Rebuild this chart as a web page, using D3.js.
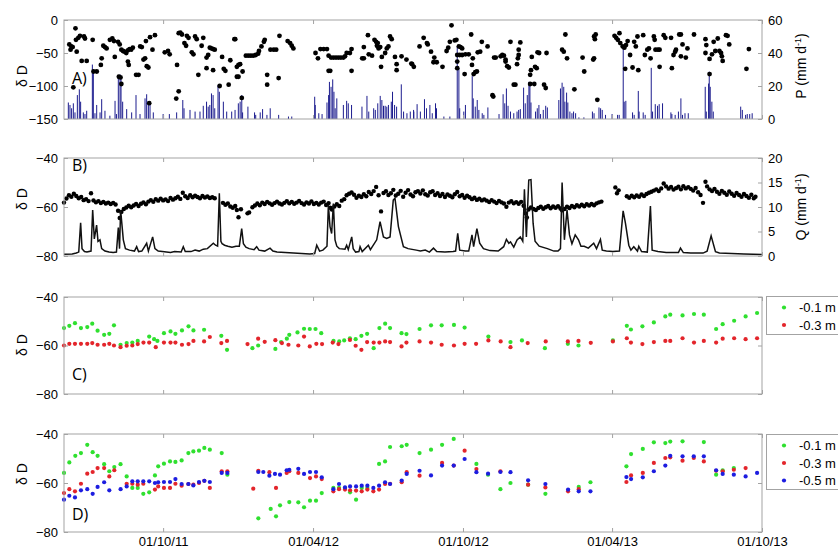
<!DOCTYPE html>
<html>
<head>
<meta charset="utf-8">
<script src="https://cdn.jsdelivr.net/npm/d3@7"></script>
<style>
body { margin: 0; background: #fff; }
svg text { font-family: "Liberation Sans", Arial, sans-serif; }
</style>
</head>
<body>
<div id="chart"></div>
<script>
// time axis
const startDate = new Date(2011, 5, 2);
const endDate = new Date(2013, 9, 1);
const dateTicks = [new Date(2011, 9, 1), new Date(2012, 3, 1), new Date(2012, 9, 1), new Date(2013, 3, 1), new Date(2013, 9, 1)];

// all series are [days since startDate, value]
// A) precipitation deltaD
const rainDeltaD = [[6.5,-37],[9,-40],[10.6,-41],[8,-45],[14,-12.6],[14.6,-30],[17.5,-27],[19.5,-24],[24.4,-25],[25.6,-28],[15.5,-48],[11.4,-102],[21.6,-62],[27.7,-62],[35,-30],[36,-78],[40,-78],[45,-68],[46,-58],[48,-39],[50,-41],[52,-43],[56,-30],[59,-28],[61,-32],[62,-56],[66,-33],[68,-37],[67,-86],[69,-87],[70,-45],[72,-47],[74,-48],[76,-50],[78,-46],[80,-44],[82,-45],[84,-42],[70,-97],[78,-63],[79,-68],[88,-83],[91,-83],[93,-40],[95,-41],[97,-60],[99,-58],[101,-70],[103,-72],[100,-32],[105,-26],[104,-126],[108,-45],[111,-23],[123,-49],[127,-47],[129,-52],[138,-68],[140,-20],[142,-19],[144,-22],[137,-119],[140,-108],[147,-35],[149,-39],[150,-24],[152,-27],[156,-49],[158,-52],[160,-25],[162,-29],[164,-83],[168,-39],[170,-27],[174,-57],[176,-53],[178,-42],[180,-43],[182,-44],[184,-45],[174,-73],[182,-76],[190,-100],[193,-56],[195,-74],[197,-77],[201,-98],[203,-61],[208,-29],[211,-71],[213,-86],
  [209,-29],[213,-68],[215,-67],[218,-78],[211,-86],[217,-118],[222,-54],[225,-54],[228,-54],[231,-54],[234,-53],[237,-51],[238,-47],[241,-40],[244,-33],[245,-30],[248,-83],[248,-98],[252,-45],[256,-45],[259,-45],[262,-88],[263,-24],[273,-32],[276,-35],[278,-39],[280,-43],
  [307,-50],[310,-58],[313,-44],[317,-44],[321,-44],[323,-54],[326,-57],[329,-57],[332,-57],[335,-57],[338,-57],[341,-57],[343,-55],[323,-77],[325,-77],[345,-50],[349,-50],[351,-44],[351,-77],[364,-58],[366,-58],[366,-41],[371,-23],[372,-52],[376,-54],[379,-30],[381,-33],[383,-35],[382,-39],[384,-43],[386,-41],[388,-56],[387,-71],[392,-50],[394,-43],[396,-40],[398,-25],[400,-29],[404,-56],[406,-76],[406,-67],[412,-55],[418,-60],[424,-66],[427,-71],
  [425,-67],[434,-40],[439,-27],[443,-35],[444,-37],[448,-48],[452,-57],[451,-64],[455,-64],[462,-71],[467,-47],[469,-42],[471,-33],[473,-8],[477,-31],[479,-30],[480,-53],[480,-63],[480,-73],[482,-40],[484,-41],[486,-43],[483,-53],[486,-53],[490,-52],[494,-52],[489,-82],[497,-22],[498,-68],[499,-58],[500,-82],[502,-79],[504,-78],[505,-49],[508,-48],[510,-33],[517,-40],[523,-114],[524,-116],[525,-57],[527,-57],[533,-55],[535,-53],[537,-54],[539,-60],[541,-70],[543,-72],[539,-63],[545,-33],[549,-98],[551,-98],[553,-67],[554,-58],[555,-53],[555,-45],[557,-34],[569,-83],[569,-97],[570,-76],[571,-56],[575,-71],[577,-73],[574,-97],[578,-49],[580,-50],[589,-50],[586,-98],[588,-103],[608,-45],[610,-48],[614,-58],[612,-22],[623,-105],[633,-57],[635,-78],
  [647,-25],[648,-29],[649,-22],[646,-60],[647,-58],[651,-121],[672,-24],[674,-27],[676,-30],[678,-20],[679,-35],[682,-40],[684,-42],[686,-38],[688,-32],[685,-74],[691,-53],[694,-72],[696,-33],[698,-40],[700,-25],[701,-76],[707,-23],[709,-53],[712,-45],[714,-43],[716,-58],[720,-25],[721,-30],[722,-45],[725,-45],[727,-45],[727,-71],[732,-23],[734,-27],[741,-27],[742,-73],[744,-53],[746,-48],[747,-45],[751,-22],[753,-22],[753,-55],[755,-37],[759,-57],[761,-43],[769,-22],[783,-29],[783,-50],[784,-38],[788,-59],[791,-52],[793,-33],[795,-47],[798,-28],[800,-47],[802,-50],[803,-55],[804,-62],[808,-23],[810,-24],[812,-37],[788,-82],[833,-74],[836,-44]];

// A) precipitation depth (mm/d)
const rainDepth = [[5.3,10],[7.3,8.5],[9.3,6.5],[11.4,9.5],[13.4,4],[16.3,14.5],[18.7,18],[20.3,10.5],[23.6,4],[25.6,3],[27.7,5],[34.6,33],[35.8,29],[37.8,3.5],[39.9,8.5],[44,4],[46,12],[50,5],[56,2],[62.3,11],[64,3],[66.3,26],[68.4,27],[69.6,25],[71.6,10.5],[76.5,6],[82.6,4],[87.9,14.5],[92.8,3],[98.9,12.5],[100.9,15],[103,8.5],[105,10],[109,4],[121,3],[128.6,3],[137.5,4],[145,11.5],[146.5,6.5],[153.8,5.5],[160,4.5],[166,4.5],[170,8],[174,10.5],[176,7.5],[178,8.5],[180,15.5],[182,14.5],[184,6.5],[188,20.5],[189.6,16.5],[194.5,10.5],[198.6,4.5],[204.7,4.5],[208.8,5.5],[212.8,9.5],
  [215,10.5],[217,14.5],[218,4],[224.5,7.5],[232.6,4],[234,2.5],[239.5,4],[242.4,6],[247.7,2.5],[251.7,6.5],[262,2.5],[274,1.5],[278,1.5],
  [306,13.5],[306.7,8.5],[311,3.5],[315,3],[321,10],[323,14.5],[324,22.5],[326,19.5],[328,24],[329.5,16.5],[331,6.5],[333,12.5],[341,8.5],[345,11],[347,9.5],[351,8.5],[363.7,7.5],[369.8,14],[372,4.5],[378,6.5],[380,5.5],[383,9.5],[386,14],[388,11.5],[390,8],[392,8],[394,7.5],[396,8.5],[399.5,10.5],[401,16.5],[403.5,8.5],[406,7.5],[411.7,21],[414.5,4.5],[418.6,3.5],[422.7,4.5],[426.7,5.5],
  [427,4.5],[431,9],[435,4.5],[440,12],[442.5,6.5],[446.6,8.5],[449.5,3.5],[453.5,9.5],[454.7,6.5],[463.7,1.5],[471,1.5],[480,44],[482,30.5],[483,6.5],[488,4.5],[490,8.5],[498.3,26],[499.5,12.5],[502,7.5],[504.4,11.5],[506.4,5.5],[510.5,3.5],[512.5,2.5],[517.4,7],[531,3],[536,15],[538,9.5],[540,18.5],[542,8],[545,4.5],[549,3.5],[553,4.5],[555,5.5],[557,6],[561,19],[563,9.5],[565.5,14.5],[567.5,22.5],[568.7,21],[570,10],[575.6,4.5],[577.7,6.5],[579.7,8.5],[581.7,3],[585,5.5],[588,8],[590,7],[604,11.5],[606,18.5],[608,22],[610,19.5],[611.4,10.5],[613.5,16],[615,10],[617.5,4.5],[620,3.5],[622,4.5],[624.5,3.5],[628.5,1],[634.6,1],
  [645,4.5],[647,3.5],[653,7],[655,6.5],[657,5.5],[661,2.5],[669,3],[675.7,2.5],[677.7,2.5],[682.6,44],[683.8,10.5],[685.8,11],[694,4],[696,2.5],[701,17],[702,4.5],[707,4],[709.4,2.5],[716.8,31],[718.4,4.5],[721.7,9],[724.5,8],[726.5,9],[730.6,9.5],[740.8,4],[742,3],[746,2.5],[750,4.5],[753,12.5],[755,2.5],[758,3.5],[762,3.5],[782.7,19.5],[784,4.5],[786.8,21.5],[787.6,28.7],[788.8,19.5],[790.8,10.5],[792.5,4.5],[826,7.5],[828,5.5],[832,2.5],[834,3],[837,3],[840,3.5]];

// B) stream water deltaD
const streamDeltaD = [[0,-58.2],[3,-56.5],[6,-55.2],[9,-55.8],[12,-54.6],[15,-55.5],[18,-56.4],[21,-55.9],[24,-57.2],[27,-56.8],[30,-57.6],[33,-54.4],[36,-57.3],[39,-58.1],[42,-57.6],[45,-58.4],[48,-57.9],[51,-58.6],[54,-58.2],[57,-58.8],[60,-58.3],[63,-59],[66,-61.5],[68,-64.5],[70,-62],[73,-60.8],[76,-60.2],[79,-59.5],[82,-60.1],[85,-59.4],[88,-58.8],[91,-59.6],[94,-58.7],[97,-58.1],[100,-58.9],[103,-57.8],[106,-57.2],[109,-57.9],[112,-56.8],[115,-57.4],[118,-56.6],[121,-57.3],[124,-56.9],[127,-57.6],[130,-56.3],[133,-57],[136,-56.4],[139,-55.8],[142,-56.7],[145,-54.2],[148,-55.6],[151,-56.3],[154,-55.2],[157,-56],[160,-55.4],[163,-55.9],[166,-56.4],[169,-55.5],[172,-56.1],[175,-55.7],[178,-56.3],[181,-56],[184,-56.4],
  [194,-58.3],[197,-59.1],[200,-58.6],[203,-59.8],[206,-60.3],[209,-59.6],[211,-61.2],[213,-64.2],[216,-60.9],[224,-62.6],[226,-62.2],[230,-60.1],[233,-59.4],[236,-58.6],[239,-59.3],[242,-58.2],[245,-58.8],[248,-57.9],[251,-58.5],[254,-59.1],[257,-58.4],[260,-57.8],[263,-58.6],[266,-59],[269,-58.3],[272,-57.6],[275,-58.5],[278,-57.9],[281,-58.7],[284,-58.2],[287,-57.5],[290,-58.4],[293,-59],[296,-58.1],[299,-58.6],[302,-57.7],[305,-58.8],[308,-58.3],[311,-59],[314,-58.2],[317,-57.8],[320,-59.2],[323,-58.4],[325,-60.3],[327,-61],[330,-59.8],[333,-58.9],[336,-59.6],[339,-57.4],[342,-56.8],[345,-55.2],[348,-54.6],[351,-54.1],[354,-55],[357,-56.2],[360,-55.4],[363,-55.9],[366,-54.8],[369,-55.6],[372,-53.9],[375,-54.7],[378,-53.5],[381,-51.8],[384,-55.2],[387,-61.8],[390,-54.3],[393,-53.6],[396,-55.1],[399,-54.4],[402,-53],[405,-55.3],[408,-54.6],[411,-53.4],[414,-55.8],[417,-54.2],[420,-53.1],[423,-54.9],[426,-55.6],[429,-54],[432,-53.5],[435,-54.5],[438,-53.2],[441,-54.8],[444,-55.3],[447,-54],[450,-53.6],[453,-55.1],[456,-54.4],[459,-55.5],[462,-54.7],[465,-55.9],[468,-54.9],[471,-55.4],[474,-56],[477,-54.8],[480,-53.9],[483,-55.6],[486,-55.1],[489,-56.2],[492,-55.4],[495,-56],[498,-56.8],[501,-56.2],[504,-57.1],[507,-56.6],[510,-57.3],[513,-56.9],[516,-57.4],[519,-58],[522,-57.2],[525,-57.8],[528,-58.4],[531,-57.5],[534,-58.1],[537,-58.6],[540,-59.9],[543,-58.2],[546,-57.6],[549,-58.5],[552,-58],[555,-58.7],[558,-57.9],[561,-59.5],[563,-62.5],[565,-64.3],[567,-61],[570,-60.2],[573,-60.8],[576,-61.2],[579,-60.4],[582,-59.9],[585,-60.7],[588,-60.1],[591,-59.6],[594,-60.5],[597,-59.8],[600,-60.3],[603,-59.7],[606,-60.6],[608,-61.3],[611,-60.8],[614,-59.9],[617,-60.4],[620,-59.6],[623,-60.1],[626,-59.3],[629,-59.8],[632,-59.1],[635,-59.7],[638,-58.9],[641,-59.4],[644,-58.8],[647,-59.3],[650,-58.5],[653,-58.1],[656,-57.8],
  [673,-52],[675,-54.4],[677,-53.2],[687,-55.6],[690,-56.2],[693,-55.4],[696,-56],[699,-55.3],[702,-55.8],[705,-54.9],[708,-55.5],[711,-54.7],[714,-54.2],[717,-53.8],[720,-53.3],[723,-52.8],[726,-53.5],[729,-52.4],[732,-50.4],[735,-51.6],[738,-52.5],[741,-51.8],[744,-52.9],[747,-52.3],[750,-51.7],[753,-52.8],[756,-51.5],[759,-52.4],[762,-51.9],[765,-52.6],[768,-53.3],[771,-52.2],[774,-54],[777,-55.1],[780,-58.3],[783,-49.7],[785,-51.6],[788,-52.8],[791,-53.5],[794,-52.6],[797,-53.8],[800,-54.6],[803,-53.4],[806,-54.2],[809,-55],[812,-53.7],[815,-54.6],[818,-55.4],[821,-54.3],[824,-55.1],[827,-55.8],[830,-54.7],[833,-55.5],[836,-56.2],[839,-55],[842,-56.4],[844,-55.8]];

// B) discharge Q (mm/d)
const discharge = [[0,0.35],[10,0.4],[15,0.6],[18,0.8],[20.3,6.8],[22,1.5],[25,0.9],[28,0.8],[33,1],[35,9.4],[37,3.5],[39.8,6.3],[41.5,3],[43.9,3.3],[46,1.5],[50,1],[55,0.8],[60,0.7],[64,0.8],[66.3,5.8],[67.8,1.5],[69.1,9.4],[72.4,3.3],[75,1.5],[80,1.2],[86,1],[88.7,1.9],[91,0.9],[95,1],[100.9,2.6],[103,1],[108.2,3.9],[111,1.5],[115,1],[120,0.9],[125,0.8],[130,0.7],[135,0.9],[143,0.8],[145.6,1.9],[148,0.9],[155,0.9],[160,1.2],[165,1],[170,1.4],[175,1.5],[182.3,2.6],[185,2.2],[187.5,2],[189.6,12.8],[191.5,3],[193,2.5],[196,2.2],[200,2],[205,1.8],[210,2],[214,2],[216.9,5.6],[219,2.5],[222,1.8],[226,1.5],[232,1.3],[235.2,1.9],[238,1.2],[245,1],[251.5,1.6],[255,1],[260,0.8],[270,0.7],[280,0.6],[290,0.5],[300,0.4],[306,0.5],[308.5,2.2],[312,1],[316,1.2],[321,2],[322.7,10.4],[324.7,6],[326.7,4.6],[328.8,10.7],[330.8,3.3],[333,2],[336,1.5],[343,1.4],[345,2.2],[347,1.3],[351.2,3.9],[353,1.5],[356,0.8],[360,0.9],[361.4,1.9],[364,0.9],[371.5,2.2],[374,1.3],[381.7,3.3],[385.8,7],[389.9,3.9],[393.9,3.6],[398,3.9],[401.9,11.4],[404,11.8],[408.2,6],[414.3,1.9],[420,1.5],[430,1.2],
  [435,1],[441,1.2],[446,0.8],[451,1.6],[455,0.9],[465,0.8],[475,0.9],[478,1],[480.6,4.6],[483,1.2],[490,1],[494,1],[498,4.3],[500,1.9],[504,5.6],[507.4,2.6],[512,1.5],[520,1.1],[530,1],[536.7,1.9],[540,3.4],[543,2.6],[545,2.9],[549,1.8],[553,3.3],[557,3.9],[560,3],[562,13.6],[564.4,3.9],[567.3,15.5],[570,15.6],[572.6,6.7],[575,3],[580,2],[590,1.5],[598,1],[603,1],[606,1.5],[608,15],[610.8,3.3],[614,9.4],[617,4.3],[620,2.5],[624,4.3],[628,3.3],[631,2],[635,2],[640,1.6],[646.6,2.6],[650,1.5],[654.8,3.4],[657,1.2],[662,1],[670,0.9],[678,1],[682.5,9.2],[685.3,6.7],[689.4,2.2],[692,1.2],[695.5,1.9],[700,1],[701.6,2],[705,0.9],[712,0.8],[715.8,10.2],[717.9,1.2],[725,0.9],[735,0.7],[750,0.7],[752.5,1.6],[756,0.7],[765,0.6],[780,0.6],[785,1],[789.9,4.1],[795.2,0.9],[800,0.6],[815,0.5],[830,0.4],[852,0.3]];

// C) soil water at two depths
const soilC01 = [[0,-52.8],[6.5,-51.9],[13.4,-50.8],[20.7,-52.8],[28.4,-52.4],[34.5,-51],[41,-53.9],[49,-55.6],[55.3,-55.2],[61,-51.7],[69,-59.7],[76.5,-59],[83.4,-58.8],[90,-58.1],[104,-56.3],[110,-57.4],[114,-58.1],[122,-54.9],[130,-54.2],[136,-55.2],[144,-53.8],[152,-52.1],[158,-53.8],[171,-53.5],[192,-56],[199,-61.8],[230,-61.1],[237,-60],[258,-61.4],[265,-58.6],[272,-57.2],[275,-55.6],[285,-54.6],[293,-53.1],[300,-53.2],[307,-53.2],[314,-54.9],[329,-58.1],[336,-58.3],[342,-57.9],[349,-57],[356,-57.4],[363,-56],[370,-55.2],[378,-61.1],[385,-52.8],[392,-51],[398,-52.8],[412,-54.9],[418,-55.3],[434,-53.2],[448,-51.7],[461,-51.7],[476,-51.5],[489,-52.6],[518,-56.3],[545,-58.6],[559,-57.9],[587,-61.1],[615,-59.3],[628,-60],[670,-57.9],[687,-51.9],[692,-53.4],[706,-52.1],[720,-50.5],[734,-48],[740,-47.3],[755,-47.6],[769,-47],[781,-47.3],[796,-53.2],[804,-51.2],[818,-49.8],[832,-48],[846,-46.6]];
const soilC03 = [[0,-60],[6.5,-59.3],[13.4,-59.3],[20.7,-59.3],[28.4,-59.3],[34.5,-59],[41,-59.7],[49,-59.7],[55.3,-59.3],[61,-60],[69,-60.7],[76.5,-60.1],[83.4,-60],[90,-59.4],[97,-58.8],[104,-58.8],[112,-60.7],[122,-58.8],[130,-58.8],[136,-58.8],[144,-59.7],[152,-59.4],[158,-58.1],[171,-58.3],[178,-56.5],[192,-59],[199,-58.1],[224,-59.4],[237,-57.2],[245,-58.5],[258,-57.8],[266,-59],[274,-59.7],[286,-60],[293,-56.3],[300,-60.4],[308,-59.3],[315,-59.4],[328,-58.8],[335,-59.4],[349,-57.7],[356,-60.1],[363,-61.8],[370,-58.6],[378,-58.8],[385,-58.8],[392,-58.3],[398,-58.6],[412,-60.4],[418,-58.8],[434,-58.3],[448,-58.8],[461,-59.7],[476,-60],[489,-59.3],[503,-59.3],[518,-57.9],[533,-58.3],[545,-60.7],[566,-59],[588,-58.3],[615,-58.3],[628,-58.1],[643,-58.9],[670,-58.3],[687,-57],[692,-58.8],[706,-59.4],[720,-58.6],[734,-58.1],[740,-58.1],[755,-57],[769,-58.8],[781,-58.1],[796,-58.8],[804,-57.2],[818,-57],[832,-57.4],[846,-57]];

// D) soil water at three depths
const soilD01 = [[0,-55.9],[6.5,-51.6],[13.8,-48.9],[20.7,-47.8],[28.4,-44.4],[35,-47.4],[41,-48.9],[49,-52.3],[55.3,-55.2],[61.4,-53.5],[69,-52.3],[76.5,-57.3],[83.4,-62],[90,-62],[96.8,-64.4],[104,-63.8],[111,-56.9],[115,-53.2],[122,-52.1],[129.4,-51.2],[136,-51.4],[143.6,-50.8],[151.8,-47.8],[157.9,-47.1],[164.8,-46.8],[171.3,-45.7],[178,-46.4],[192.5,-47.8],[199.4,-56.6],[237.2,-74.4],[252.3,-70.6],[258.8,-73.6],[263.7,-69.1],[275,-67.8],[286,-67.9],[293,-69.9],[300.3,-67.2],[307.6,-67.2],[314.6,-64.1],[328.8,-62],[335.7,-62],[343,-62],[349.2,-63.8],[356.5,-66.8],[363.4,-62],[370.3,-62],[384.6,-52.2],[391.9,-51.2],[398,-45.3],[412.2,-45],[418.3,-44.4],[434,-47.8],[448,-46.4],[461.5,-44.4],[475.7,-42],[503.4,-52.2],[517.6,-56.6],[532.7,-62.5],[545,-60],[566.5,-60.7],[587.6,-64.4],[628.3,-61.6],[642.6,-59.7],[686.5,-53.2],[692.2,-48.2],[706.5,-46.1],[720,-43.4],[734,-43.7],[740,-43.1],[755,-43],[781,-43.3],[796,-56.6],[804,-54.8],[817.6,-53.9]];
const soilD03 = [[0,-64.1],[6.5,-62.5],[13.4,-63.4],[20.7,-60.3],[28.4,-56.2],[35,-55.5],[41,-53.9],[49,-53.9],[55.3,-57.3],[61.4,-54.8],[76.5,-60.3],[83.4,-60.3],[90,-60.7],[96.8,-60.3],[111,-62.7],[115,-61.4],[122,-62],[129.4,-62],[136,-60.3],[143.6,-61.1],[151.8,-60.4],[157.9,-60.7],[164.8,-60],[171.3,-59.1],[178,-62],[192.5,-55.2],[199.4,-55.2],[231,-62.3],[237.2,-55],[250.7,-55.6],[258.8,-62],[271.8,-55.9],[275,-55.2],[286,-55.9],[300.3,-58],[307.6,-57.3],[314.6,-58.4],[328.8,-63.4],[335.7,-62.5],[343,-62.7],[349.2,-63],[356.5,-63.1],[363.4,-63.4],[370.3,-62.7],[377.6,-63.4],[384.6,-62.7],[391.9,-60.4],[398,-60.3],[412.2,-59.7],[418.3,-55.6],[434,-57],[461.5,-51.8],[475.7,-52.9],[489,-46.8],[503.4,-54.3],[532.7,-55.2],[566.5,-60.7],[587.6,-61.8],[615.3,-63.4],[628.3,-62.5],[686.5,-59.6],[692.2,-56.9],[706.5,-55.9],[720,-51.8],[734,-49.8],[740,-49.5],[755,-50.9],[768.7,-49.8],[781,-51.2],[796,-55],[804,-55.2],[817.6,-54.6],[832,-53.9]];
const soilD05 = [[0,-66.8],[6.5,-65.2],[13.4,-65.9],[20.7,-63],[28.4,-62.5],[35,-64.4],[41,-61.6],[49,-59.7],[55.3,-63],[69.1,-62.5],[76.5,-61.4],[83.4,-59.3],[90,-59.3],[96.8,-59.3],[104,-59.3],[111,-60],[115,-59.7],[122,-59.6],[129.4,-59.6],[136,-58.4],[143.6,-60.4],[151.8,-60.4],[157.9,-61],[164.8,-59.6],[171.3,-59.1],[178,-59.6],[192.5,-55.9],[199.4,-55.9],[237.2,-55.5],[243.3,-55.5],[250.7,-57],[257.5,-56.3],[263.7,-56.6],[271.8,-54.8],[275,-54.6],[286,-54.2],[293,-56.3],[300.3,-55.5],[307.6,-55.5],[314.6,-57.7],[328.8,-62.5],[335.7,-60.4],[343,-61.8],[349.2,-61.4],[356.5,-61.4],[363.4,-61.1],[370.3,-61.1],[377.6,-62],[384.6,-61.1],[391.9,-59.7],[398,-60.4],[412.2,-59],[418.3,-56.3],[434,-55],[448,-56.9],[461.5,-52.9],[475.7,-52.9],[489,-50.2],[503.4,-55.6],[517.6,-56.2],[532.7,-55.5],[545,-55.6],[566.5,-58.9],[587.6,-60.4],[615.3,-62.7],[628.3,-63.4],[642.6,-63.4],[686.5,-57.6],[692.2,-58.4],[706.5,-57.7],[720,-55.2],[734,-52.9],[740,-48.9],[755,-49.1],[768.7,-49.1],[781,-49.1],[796,-54.8],[804,-56.3],[817.6,-56.6],[832,-57.3],[846,-55.9]];

const legendC = ['-0.1 m', '-0.3 m'];
const legendD = ['-0.1 m', '-0.3 m', '-0.5 m'];

const width = 838;
const height = 550;
const plotLeft = 64;
const plotRight = 762;
const frameColor = '#a3a3a3';
const green = '#2fe02f';
const red = '#e3252b';
const blue = '#1d1de0';

const svg = d3
    .select('#chart')
    .append('svg')
    .attr('width', width)
    .attr('height', height);

const x = d3.scaleTime().domain([startDate, endDate]).range([plotLeft, plotRight]);
const dayToDate = (d) => new Date(startDate.getTime() + d * 86400000);

// frame, ticks and labels of one panel
function addFrame(top, bottom, yLeft, leftTicks, yRight, rightTicks, showDates) {
    const g = svg.append('g');
    g.append('g')
        .attr('transform', `translate(0,${top})`)
        .call(d3.axisTop(x).tickValues(dateTicks).tickSize(-4).tickFormat(''));
    g.append('g')
        .attr('transform', `translate(0,${bottom})`)
        .call(d3.axisBottom(x).tickValues(dateTicks).tickSize(-4).tickPadding(5)
            .tickFormat(showDates ? d3.timeFormat('%d/%m/%y') : ''));
    g.append('g')
        .attr('transform', `translate(${plotLeft},0)`)
        .call(d3.axisLeft(yLeft).tickValues(leftTicks).tickSize(-4).tickPadding(6));
    g.append('g')
        .attr('transform', `translate(${plotRight},0)`)
        .call(d3.axisRight(yRight).tickValues(rightTicks).tickSize(-4).tickPadding(6)
            .tickFormat(yRight === yLeft ? '' : null));
    g.selectAll('.domain').remove();
    g.selectAll('.tick line').attr('stroke', frameColor);
    g.selectAll('.tick text').attr('font-size', 13).attr('fill', '#000');
    g.append('rect')
        .attr('x', plotLeft)
        .attr('y', top)
        .attr('width', plotRight - plotLeft)
        .attr('height', bottom - top)
        .attr('fill', 'none')
        .attr('stroke', frameColor);
}

function addYLabel(text, cy) {
    svg.append('text')
        .attr('transform', `translate(22,${cy}) rotate(-90)`)
        .attr('text-anchor', 'middle')
        .attr('dy', '0.35em')
        .style('font-size', '14px')
        .text(text);
}

function addUnitLabel(name, cy) {
    const t = svg.append('text')
        .attr('transform', `translate(801,${cy}) rotate(-90)`)
        .attr('text-anchor', 'middle')
        .attr('dy', '0.35em')
        .style('font-size', '14px');
    t.append('tspan').text(name + ' (mm d');
    t.append('tspan').attr('dy', -5).style('font-size', '9px').text('-1');
    t.append('tspan').attr('dy', 5).text(')');
}

function addPanelLabel(text, baseline) {
    svg.append('text')
        .attr('x', 72)
        .attr('y', baseline)
        .style('font-family', '"Open Sans", sans-serif')
        .style('font-size', '16px')
        .text(text);
}

function addDots(data, y, color, r) {
    svg.append('g')
        .selectAll('circle')
        .data(data)
        .enter()
        .append('circle')
        .attr('cx', (d) => x(dayToDate(d[0])))
        .attr('cy', (d) => y(d[1]))
        .attr('r', r)
        .attr('fill', color);
}

function addLegend(top, h, labels, colors) {
    svg.append('rect')
        .attr('x', 766.5)
        .attr('y', top)
        .attr('width', 120)
        .attr('height', h)
        .attr('fill', '#fff')
        .attr('stroke', frameColor);
    labels.forEach((label, i) => {
        const cy = top + 11 + i * 17.5;
        svg.append('circle').attr('cx', 784).attr('cy', cy).attr('r', 2.1).attr('fill', colors[i]);
        svg.append('text')
            .attr('x', 799)
            .attr('y', cy)
            .attr('dy', '0.35em')
            .style('font-size', '13px')
            .text(label);
    });
}

// panel A
const yA = d3.scaleLinear().domain([-150, 0]).range([119, 20]);
const yP = d3.scaleLinear().domain([0, 60]).range([119, 20]);
svg.append('g')
    .selectAll('line')
    .data(rainDepth)
    .enter()
    .append('line')
    .attr('x1', (d) => x(dayToDate(d[0])))
    .attr('x2', (d) => x(dayToDate(d[0])))
    .attr('y1', yP(0))
    .attr('y2', (d) => yP(d[1]))
    .attr('stroke', '#1c1c8e')
    .attr('stroke-width', 1);
addDots(rainDeltaD, yA, '#000', 2.4);
addFrame(20, 119, yA, [-150, -100, -50, 0], yP, [0, 20, 40, 60], false);
addYLabel('δ D', 76);
addUnitLabel('P', 66);
addPanelLabel('A)', 84);

// panel B
const yB = d3.scaleLinear().domain([-80, -40]).range([256, 158]);
const yQ = d3.scaleLinear().domain([0, 20]).range([256, 158]);
addDots(streamDeltaD, yB, '#000', 2.2);
svg.append('path')
    .datum(discharge)
    .attr('fill', 'none')
    .attr('stroke', '#111')
    .attr('stroke-width', 1.5)
    .attr('d', d3.line().x((d) => x(dayToDate(d[0]))).y((d) => yQ(d[1])));
addFrame(158, 256, yB, [-80, -60, -40], yQ, [0, 5, 10, 15, 20], false);
addYLabel('δ D', 199);
addUnitLabel('Q', 207);
addPanelLabel('B)', 171);

// panel C
const yC = d3.scaleLinear().domain([-80, -40]).range([394, 297]);
addDots(soilC01, yC, green, 2.1);
addDots(soilC03, yC, red, 2.1);
addFrame(297, 394, yC, [-80, -60, -40], yC, [-80, -60, -40], false);
addYLabel('δ D', 345);
addPanelLabel('C)', 380);
addLegend(296.5, 38, legendC, [green, red]);

// panel D
const yD = d3.scaleLinear().domain([-80, -40]).range([532, 434]);
addDots(soilD01, yD, green, 2.1);
addDots(soilD03, yD, red, 2.1);
addDots(soilD05, yD, blue, 2.1);
addFrame(434, 532, yD, [-80, -60, -40], yD, [-80, -60, -40], true);
addYLabel('δ D', 474);
addPanelLabel('D)', 520);
addLegend(434.5, 55, legendD, [green, red, blue]);
</script>
</body>
</html>
